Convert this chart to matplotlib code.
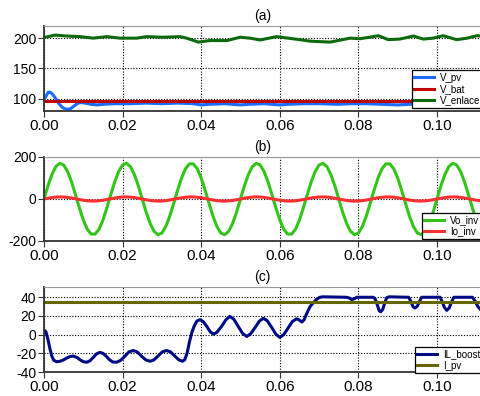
import numpy as np
import matplotlib
matplotlib.use("Agg")
import matplotlib.pyplot as plt

plt.rcParams['font.family'] = ['Liberation Sans', 'DejaVu Sans']
plt.rcParams['axes.unicode_minus'] = False

# ---- (a) tensiones ----
t_pv = [0.0, 0.0004, 0.0008, 0.0011, 0.0015, 0.0020, 0.0026, 0.0032, 0.0038, 0.0045,
        0.0052, 0.0058, 0.0063, 0.0068, 0.0074, 0.0080, 0.0087, 0.0094, 0.0105, 0.012,
        0.0135, 0.015, 0.018, 0.022, 0.026, 0.030, 0.034, 0.038, 0.040, 0.042,
        0.046, 0.050, 0.052, 0.056, 0.060, 0.062, 0.066, 0.070, 0.075, 0.078,
        0.082, 0.086, 0.090, 0.093, 0.097, 0.100, 0.103, 0.107, 0.1115]
v_pv = [98, 103, 108, 111, 111, 109, 104, 98, 92, 87,
        84, 83, 83, 84, 87, 90, 93, 94, 93, 91,
        90, 91, 92, 92, 93, 92, 93, 92, 90, 91,
        92, 90, 91, 92, 90, 91, 92, 92, 91, 92,
        92, 91, 90, 91, 92, 89, 91, 92, 90]

t_bat = [0.0, 0.1115]
v_bat = [97, 97]

t_enl = [0.0, 0.0028, 0.0058, 0.0092, 0.0125, 0.016, 0.0193, 0.0236, 0.0261, 0.0304,
         0.0346, 0.0363, 0.0393, 0.0422, 0.0465, 0.0499, 0.0524, 0.055, 0.0592, 0.0627,
         0.0651, 0.0677, 0.0728, 0.0779, 0.0804, 0.0851, 0.0876, 0.0906, 0.094, 0.0965,
         0.099, 0.1016, 0.105, 0.1077, 0.1101, 0.1115]
v_enl = [201, 205, 203.5, 202.5, 200, 202.5, 200, 200, 202.5, 201.5,
         202.5, 200, 193.5, 196, 196, 201.5, 200, 197, 202.5, 199.5,
         197.5, 195, 193.5, 200, 199, 204, 197.5, 198.5, 203.5, 198.5,
         200, 204, 197.5, 200, 204, 203.5]

# ---- (b) inversor, muestreo 1 ms ----
t_inv = np.linspace(0, 0.111, 112)
vo_inv = [0, 63, 116, 154, 170, 162, 131, 82, 21, -42,
          -100, -144, -167, -167, -144, -100, -42, 21, 82, 131,
          162, 170, 154, 116, 63, 0, -63, -116, -154, -170,
          -162, -131, -82, -21, 42, 100, 144, 167, 167, 144,
          100, 42, -21, -82, -131, -162, -170, -154, -116, -63,
          0, 63, 116, 154, 170, 162, 131, 82, 21, -42,
          -100, -144, -167, -167, -144, -100, -42, 21, 82, 131,
          162, 170, 154, 116, 63, 0, -63, -116, -154, -170,
          -162, -131, -82, -21, 42, 100, 144, 167, 167, 144,
          100, 42, -21, -82, -131, -162, -170, -154, -116, -63,
          0, 63, 116, 154, 170, 162, 131, 82, 21, -42,
          -100, -144]
io_inv = [0, 3.7, 6.8, 9.0, 10.0, 9.5, 7.7, 4.8, 1.3, -2.5,
          -5.9, -8.4, -9.8, -9.8, -8.4, -5.9, -2.5, 1.3, 4.8, 7.7,
          9.5, 10.0, 9.0, 6.8, 3.7, 0, -3.7, -6.8, -9.0, -10.0,
          -9.5, -7.7, -4.8, -1.3, 2.5, 5.9, 8.4, 9.8, 9.8, 8.4,
          5.9, 2.5, -1.3, -4.8, -7.7, -9.5, -10.0, -9.0, -6.8, -3.7,
          0, 3.7, 6.8, 9.0, 10.0, 9.5, 7.7, 4.8, 1.3, -2.5,
          -5.9, -8.4, -9.8, -9.8, -8.4, -5.9, -2.5, 1.3, 4.8, 7.7,
          9.5, 10.0, 9.0, 6.8, 3.7, 0, -3.7, -6.8, -9.0, -10.0,
          -9.5, -7.7, -4.8, -1.3, 2.5, 5.9, 8.4, 9.8, 9.8, 8.4,
          5.9, 2.5, -1.3, -4.8, -7.7, -9.5, -10.0, -9.0, -6.8, -3.7,
          0, 3.7, 6.8, 9.0, 10.0, 9.5, 7.7, 4.8, 1.3, -2.5,
          -5.9, -8.4]

# ---- (c) corrientes ----
t_il = [0.0000, 0.0005, 0.0010, 0.0015, 0.0020, 0.0025, 0.0032, 0.0041, 0.0050, 0.0058,
        0.0066, 0.0075, 0.0084, 0.0092, 0.0100, 0.0109, 0.0117, 0.0125, 0.0134, 0.0142,
        0.0150, 0.0158, 0.0167, 0.0175, 0.0185, 0.0195, 0.0206, 0.0216, 0.0227, 0.0237,
        0.0248, 0.0259, 0.0270, 0.0280, 0.0291, 0.0301, 0.0312, 0.0322, 0.0333, 0.0343,
        0.0352, 0.0358, 0.0364, 0.0370, 0.0376, 0.0382, 0.0389, 0.0397, 0.0405, 0.0414,
        0.0423, 0.0431, 0.0440, 0.0452, 0.0463, 0.0473, 0.0483, 0.0494, 0.0505, 0.0516,
        0.0526, 0.0537, 0.0548, 0.0558, 0.0568, 0.0579, 0.0590, 0.0600, 0.0610, 0.0621,
        0.0632, 0.0643, 0.0650, 0.0656, 0.0662, 0.0670, 0.0677, 0.0685, 0.0694, 0.0702,
        0.0710, 0.0770, 0.0778, 0.0783, 0.0790, 0.0796, 0.0838, 0.0843, 0.0848, 0.0853,
        0.0857, 0.0862, 0.0867, 0.0872, 0.0878, 0.0928, 0.0933, 0.0939, 0.0944, 0.0950,
        0.0956, 0.0961, 0.1008, 0.1013, 0.1019, 0.1025, 0.1031, 0.1037, 0.1043, 0.1090,
        0.1097, 0.1104, 0.1115]
il_boost = [5, 3, -5, -15, -23, -27.5, -29, -28.5, -27, -25,
            -23.5, -23, -24.5, -27, -29, -29.5, -28, -24.5, -20.5, -19,
            -20, -23, -27, -29.3, -29.5, -27.5, -23, -18.5, -17, -18.5,
            -23, -27, -28.5, -27, -22.5, -18.5, -17, -18.5, -23, -27,
            -28.5, -27, -20, -8, 2, 9, 14.5, 16, 14, 9,
            3, 0.5, 2.5, 9, 16, 19.5, 16.5, 9, 1.5, -2,
            1, 7.5, 14.5, 17.5, 15, 8, 0.5, -3, 0, 7,
            14, 17, 15.5, 13.5, 16, 24, 30, 34, 38, 40,
            40.5, 40, 39, 37.5, 38.5, 40, 40, 38, 32, 25.5,
            24.5, 27, 34, 39.5, 40.5, 40, 36, 30, 28.5, 30.5,
            36, 40, 40, 35.5, 29, 26, 28.5, 35, 40, 40,
            36, 30, 25]

t_ipv = [0.0, 0.1115]
i_pv = [35, 35]

xticks = [0.00, 0.02, 0.04, 0.06, 0.08, 0.10]
xlabels = ['0.00', '0.02', '0.04', '0.06', '0.08', '0.10']

fig = plt.figure(figsize=(4.81, 3.96), dpi=100)
W, H = 481.0, 396.0
XMAX = 0.1112


def make_axes(top_px, bot_px, title, ylim, yticks):
    ax = fig.add_axes([44 / W, 1 - bot_px / H, 1 - 44 / W, (bot_px - top_px) / H])
    ax.set_xlim(0, XMAX)
    ax.set_ylim(*ylim)
    ax.set_xticks(xticks)
    ax.set_xticklabels(xlabels, fontsize=11)
    ax.set_yticks(yticks)
    ax.tick_params(axis='y', labelsize=10, direction='out', length=4, pad=1.5, color='#333333')
    ax.tick_params(axis='x', direction='out', length=4, pad=2, color='#333333')
    ax.grid(True, linestyle=(0, (1, 1.5)), color='black', linewidth=0.8)
    ax.spines['right'].set_visible(False)
    ax.spines['top'].set_color('#999999')
    ax.spines['left'].set_color('#333333')
    ax.spines['bottom'].set_color('#333333')
    ax.spines['left'].set_linewidth(1.3)
    ax.spines['bottom'].set_linewidth(1.3)
    ax.set_title(title, fontsize=10, pad=4)
    return ax


def add_legend(ax, x_px, y_px):
    leg = ax.legend(loc='lower left', bbox_to_anchor=(x_px / W, 1 - y_px / H),
                    bbox_transform=fig.transFigure, fontsize=7, frameon=True,
                    fancybox=False, edgecolor='black', framealpha=1,
                    borderaxespad=0, borderpad=0.25, labelspacing=0.15,
                    handlelength=2.0, handletextpad=0.6)
    leg.get_frame().set_linewidth(0.9)


ax1 = make_axes(26, 111, '(a)', (80, 220), [100, 150, 200])
ax1.plot(t_pv, v_pv, color='#1a6cff', lw=2.2, label='V_pv')
ax1.plot(t_bat, v_bat, color='#c00000', lw=2.2, label='V_bat')
ax1.plot(t_enl, v_enl, color='#0b6a0b', lw=2.2, label='V_enlace')
add_legend(ax1, 412, 108)

ax2 = make_axes(157, 241, '(b)', (-200, 200), [-200, 0, 200])
ax2.plot(t_inv, vo_inv, color='#33c41a', lw=2.2, label='Vo_inv')
ax2.plot(t_inv, io_inv, color='#ff3030', lw=2.2, label='Io_inv')
add_legend(ax2, 422, 239)

ax3 = make_axes(287, 372, '(c)', (-40, 51), [-40, -20, 0, 20, 40])
ax3.plot(t_il, il_boost, color='#000a85', lw=2.2, label='IL_boost')
ax3.plot(t_ipv, i_pv, color='#666600', lw=2.2, label='I_pv')
add_legend(ax3, 415, 373)

fig.savefig('out.png', dpi=100)
